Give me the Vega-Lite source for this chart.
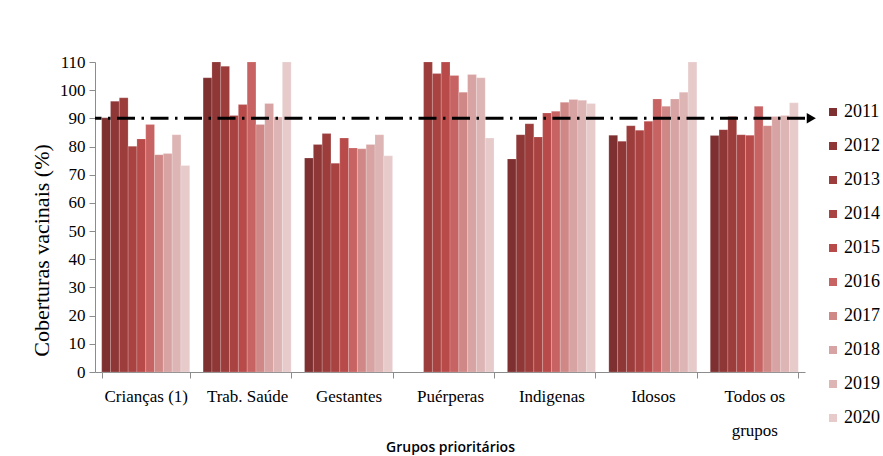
{
  "$schema": "https://vega.github.io/schema/vega-lite/v6.json",
  "width": 710,
  "height": 310,
  "autosize": {"type": "none"},
  "padding": {"left": 95, "top": 62, "right": 78, "bottom": 84},
  "background": "#ffffff",
  "config": {
    "font": "Liberation Serif",
    "view": {"stroke": null},
    "axis": {"labelColor": "#000000", "titleColor": "#000000", "domainColor": "#8c8c8c", "tickColor": "#8c8c8c", "grid": false}
  },
  "datasets": {
    "cob": [
      {"grupo": "Crianças (1)", "ano": "2011", "valor": 90.2},
      {"grupo": "Crianças (1)", "ano": "2012", "valor": 96.1},
      {"grupo": "Crianças (1)", "ano": "2013", "valor": 97.3},
      {"grupo": "Crianças (1)", "ano": "2014", "valor": 80.1},
      {"grupo": "Crianças (1)", "ano": "2015", "valor": 82.7},
      {"grupo": "Crianças (1)", "ano": "2016", "valor": 87.8},
      {"grupo": "Crianças (1)", "ano": "2017", "valor": 77.1},
      {"grupo": "Crianças (1)", "ano": "2018", "valor": 77.5},
      {"grupo": "Crianças (1)", "ano": "2019", "valor": 84.2},
      {"grupo": "Crianças (1)", "ano": "2020", "valor": 73.3},
      {"grupo": "Trab. Saúde", "ano": "2011", "valor": 104.4},
      {"grupo": "Trab. Saúde", "ano": "2012", "valor": 110},
      {"grupo": "Trab. Saúde", "ano": "2013", "valor": 108.5},
      {"grupo": "Trab. Saúde", "ano": "2014", "valor": 91},
      {"grupo": "Trab. Saúde", "ano": "2015", "valor": 94.9},
      {"grupo": "Trab. Saúde", "ano": "2016", "valor": 110},
      {"grupo": "Trab. Saúde", "ano": "2017", "valor": 87.8},
      {"grupo": "Trab. Saúde", "ano": "2018", "valor": 95.3},
      {"grupo": "Trab. Saúde", "ano": "2019", "valor": 90.5},
      {"grupo": "Trab. Saúde", "ano": "2020", "valor": 110},
      {"grupo": "Gestantes", "ano": "2011", "valor": 75.9},
      {"grupo": "Gestantes", "ano": "2012", "valor": 80.7},
      {"grupo": "Gestantes", "ano": "2013", "valor": 84.6},
      {"grupo": "Gestantes", "ano": "2014", "valor": 74.1},
      {"grupo": "Gestantes", "ano": "2015", "valor": 83.0},
      {"grupo": "Gestantes", "ano": "2016", "valor": 79.5},
      {"grupo": "Gestantes", "ano": "2017", "valor": 79.2},
      {"grupo": "Gestantes", "ano": "2018", "valor": 80.7},
      {"grupo": "Gestantes", "ano": "2019", "valor": 84.2},
      {"grupo": "Gestantes", "ano": "2020", "valor": 76.7},
      {"grupo": "Puérperas", "ano": "2013", "valor": 110},
      {"grupo": "Puérperas", "ano": "2014", "valor": 105.9},
      {"grupo": "Puérperas", "ano": "2015", "valor": 110},
      {"grupo": "Puérperas", "ano": "2016", "valor": 105.2},
      {"grupo": "Puérperas", "ano": "2017", "valor": 99.3},
      {"grupo": "Puérperas", "ano": "2018", "valor": 105.6},
      {"grupo": "Puérperas", "ano": "2019", "valor": 104.4},
      {"grupo": "Puérperas", "ano": "2020", "valor": 83.0},
      {"grupo": "Indigenas", "ano": "2011", "valor": 75.6},
      {"grupo": "Indigenas", "ano": "2012", "valor": 84.2},
      {"grupo": "Indigenas", "ano": "2013", "valor": 88.1},
      {"grupo": "Indigenas", "ano": "2014", "valor": 83.4},
      {"grupo": "Indigenas", "ano": "2015", "valor": 91.9},
      {"grupo": "Indigenas", "ano": "2016", "valor": 92.5},
      {"grupo": "Indigenas", "ano": "2017", "valor": 95.7},
      {"grupo": "Indigenas", "ano": "2018", "valor": 96.7},
      {"grupo": "Indigenas", "ano": "2019", "valor": 96.4},
      {"grupo": "Indigenas", "ano": "2020", "valor": 95.3},
      {"grupo": "Idosos", "ano": "2011", "valor": 84.0},
      {"grupo": "Idosos", "ano": "2012", "valor": 81.9},
      {"grupo": "Idosos", "ano": "2013", "valor": 87.4},
      {"grupo": "Idosos", "ano": "2014", "valor": 85.8},
      {"grupo": "Idosos", "ano": "2015", "valor": 89.0},
      {"grupo": "Idosos", "ano": "2016", "valor": 96.9},
      {"grupo": "Idosos", "ano": "2017", "valor": 94.3},
      {"grupo": "Idosos", "ano": "2018", "valor": 96.9},
      {"grupo": "Idosos", "ano": "2019", "valor": 99.3},
      {"grupo": "Idosos", "ano": "2020", "valor": 110},
      {"grupo": "Todos os grupos", "ano": "2011", "valor": 83.9},
      {"grupo": "Todos os grupos", "ano": "2012", "valor": 86.0},
      {"grupo": "Todos os grupos", "ano": "2013", "valor": 90.7},
      {"grupo": "Todos os grupos", "ano": "2014", "valor": 84.2},
      {"grupo": "Todos os grupos", "ano": "2015", "valor": 84.0},
      {"grupo": "Todos os grupos", "ano": "2016", "valor": 94.3},
      {"grupo": "Todos os grupos", "ano": "2017", "valor": 87.4},
      {"grupo": "Todos os grupos", "ano": "2018", "valor": 90.7},
      {"grupo": "Todos os grupos", "ano": "2019", "valor": 91.0},
      {"grupo": "Todos os grupos", "ano": "2020", "valor": 95.5}
    ],
    "meta": [{"grupo": "Todos os grupos", "valor": 90}]
  },
  "encoding": {
    "y": {
      "field": "valor", "type": "quantitative",
      "scale": {"domain": [0, 110], "nice": false},
      "axis": {
        "title": "Coberturas vacinais (%)", "titleFontSize": 22, "titleFontWeight": "normal",
        "titlePadding": 6, "titleY": 188,
        "values": [0, 10, 20, 30, 40, 50, 60, 70, 80, 90, 100, 110],
        "tickCount": 12,
        "labelOverlap": false, "labelFlush": false,
        "labelFontSize": 17, "labelPadding": 4, "tickSize": 6
      }
    }
  },
  "layer": [
    {
      "data": {"name": "cob"},
      "mark": {"type": "bar", "stroke": "#ffffff", "strokeWidth": 0.5, "strokeOpacity": 0.35},
      "encoding": {
        "x": {
          "field": "grupo", "type": "nominal", "sort": null,
          "scale": {"domain": ["Crianças (1)", "Trab. Saúde", "Gestantes", "Puérperas", "Indigenas", "Idosos", "Todos os grupos"], "paddingInner": 0.132, "paddingOuter": 0.066},
          "axis": {
            "title": "Grupos prioritários",
            "titleFont": "Open Sans", "titleFontSize": 14, "titleFontWeight": 600, "titlePadding": 2,
            "labelAngle": 0, "labelFontSize": 17, "labelPadding": 10, "labelLineHeight": 34,
            "labelBaseline": "top",
            "labelExpr": "datum.label == 'Todos os grupos' ? ['Todos os', 'grupos'] : datum.label",
            "tickBand": "extent", "tickSize": 6
          }
        },
        "xOffset": {"field": "ano", "type": "nominal", "scale": {"paddingInner": 0, "paddingOuter": 0}},
        "color": {
          "field": "ano", "type": "nominal",
          "scale": {
            "domain": ["2011", "2012", "2013", "2014", "2015", "2016", "2017", "2018", "2019", "2020"],
            "range": ["#7e2f30", "#8f3636", "#9c3d3c", "#a94342", "#b84b4a", "#c76362", "#d08887", "#d8a3a3", "#deb5b5", "#e7cbcb"]
          },
          "legend": {
            "title": null, "orient": "none", "legendX": 729, "legendY": 41,
            "symbolType": "square", "symbolSize": 64, "symbolStrokeWidth": 0,
            "labelFontSize": 18, "labelColor": "#000000", "labelOffset": 2, "rowPadding": 16
          }
        }
      }
    },
    {
      "data": {"name": "meta"},
      "mark": {"type": "rule", "color": "#000000", "strokeWidth": 3, "strokeDash": [18, 6.5, 2.5, 6.5]},
      "encoding": {}
    },
    {
      "data": {"name": "meta"},
      "mark": {"type": "point", "shape": "triangle-right", "filled": true, "color": "#000000", "opacity": 1, "size": 110, "xOffset": 13},
      "encoding": {
        "x": {"field": "grupo", "type": "nominal", "bandPosition": 1}
      }
    }
  ]
}
